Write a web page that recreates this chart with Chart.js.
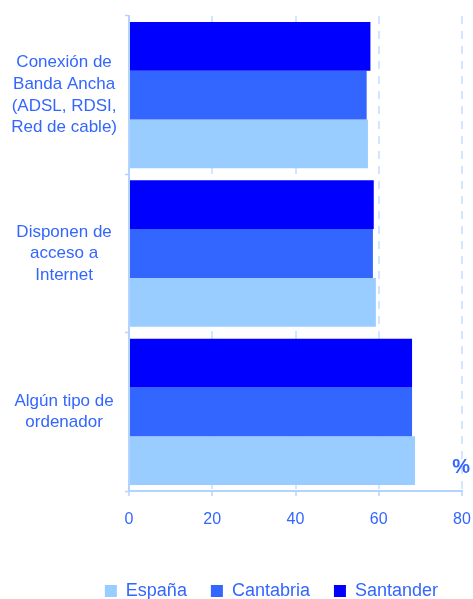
<!DOCTYPE html>
<html>
<head>
<meta charset="utf-8">
<script src="https://cdn.jsdelivr.net/npm/chart.js@4/dist/chart.umd.min.js"></script>
<style>
  html, body { margin: 0; padding: 0; background: #ffffff; }
  #wrap { width: 473px; height: 599px; }
</style>
</head>
<body>
<div id="wrap"><canvas id="grafico"></canvas></div>
<script>
// Categorias (de arriba a abajo)
var categorias = [
  ['Conexión de', 'Banda Ancha', '(ADSL, RDSI,', 'Red de cable)'],
  ['Disponen de', 'acceso a', 'Internet'],
  ['Algún tipo de', 'ordenador']
];

// Valores en %
var valores_santander = [58.0, 58.8, 68.0];
var valores_cantabria = [57.1, 58.6, 68.0];
var valores_espana    = [57.4, 59.3, 68.7];

var ticks_x = [0, 20, 40, 60, 80];

var azulTexto = '#3366ff';
var azulEje = '#b3d4ff';

// Texto "%" junto al eje
const etiquetaPorcentaje = {
  id: 'etiquetaPorcentaje',
  afterDraw(chart) {
    const ctx = chart.ctx;
    const area = chart.chartArea;
    ctx.save();
    ctx.font = 'bold 20px "Liberation Sans", Arial, sans-serif';
    ctx.fillStyle = azulTexto;
    ctx.textAlign = 'right';
    ctx.textBaseline = 'middle';
    ctx.fillText('%', area.right + 8, area.bottom - 24);
    ctx.restore();
  }
};

const data_grafico = {
  labels: categorias,
  datasets: [{
    label: 'Santander',
    backgroundColor: '#0000ff',
    data: valores_santander
  }, {
    label: 'Cantabria',
    backgroundColor: '#3366ff',
    data: valores_cantabria
  }, {
    label: 'España',
    backgroundColor: '#99ccff',
    data: valores_espana
  }]
};

const config_grafico = {
  type: 'bar',
  data: data_grafico,
  plugins: [etiquetaPorcentaje],
  options: {
    indexAxis: 'y',
    responsive: true,
    maintainAspectRatio: false,
    animation: false,
    layout: { padding: { top: 16, left: 0, right: 11, bottom: -11 } },
    datasets: {
      bar: { categoryPercentage: 0.924, barPercentage: 1.0, borderWidth: 0 }
    },
    scales: {
      x: {
        min: 0,
        max: 80,
        afterBuildTicks: function(scale) {
          scale.ticks = ticks_x.map(function(v) { return { value: v }; });
        },
        afterFit: function(scale) {
          scale.height = 67;
          scale.paddingLeft = 0;
          scale.paddingRight = 0;
        },
        border: { display: true, color: azulEje, width: 2, dash: [8, 7] },
        grid: {
          color: '#d3e6ff',
          lineWidth: 2,
          tickColor: azulEje,
          tickLength: 5,
          tickWidth: 1.5
        },
        ticks: {
          color: azulTexto,
          padding: 14,
          font: { family: '"Liberation Sans", Arial, sans-serif', size: 16 }
        }
      },
      y: {
        afterFit: function(scale) {
          scale.width = 129;
          scale.paddingTop = 0;
          scale.paddingBottom = 0;
        },
        border: { display: true, color: azulEje, width: 2 },
        grid: {
          drawOnChartArea: false,
          drawTicks: true,
          offset: true,
          tickColor: azulEje,
          tickLength: 4,
          tickWidth: 1.5
        },
        ticks: {
          color: azulTexto,
          crossAlign: 'center',
          padding: 8,
          font: { family: '"Liberation Sans", Arial, sans-serif', size: 17, lineHeight: 1.27 }
        }
      }
    },
    plugins: {
      tooltip: { enabled: false },
      legend: {
        position: 'bottom',
        align: 'end',
        reverse: true,
        labels: {
          color: azulTexto,
          boxWidth: 12,
          boxHeight: 12,
          padding: 24,
          font: { family: '"Liberation Sans", Arial, sans-serif', size: 18 }
        }
      }
    }
  }
};

const grafico = new Chart(
  document.getElementById('grafico'),
  config_grafico
);
</script>
</body>
</html>
